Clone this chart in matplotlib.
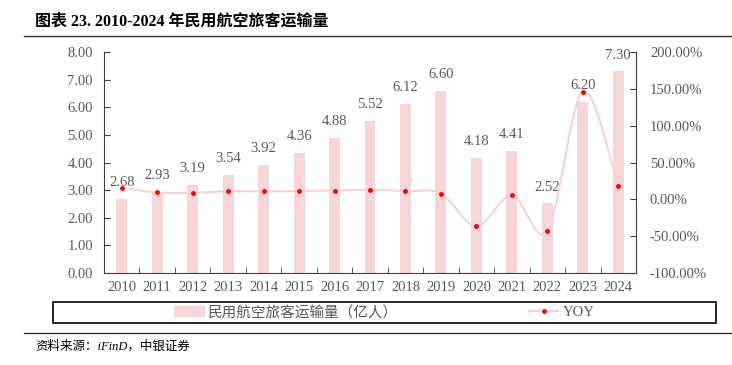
import numpy as np
from matplotlib import pyplot as plt
from matplotlib.patches import Patch, Rectangle
from matplotlib.lines import Line2D

plt.rcParams['font.family'] = ['Liberation Serif', 'Noto Sans CJK SC']
plt.rcParams['axes.unicode_minus'] = False

years = ['2010', '2011', '2012', '2013', '2014', '2015', '2016', '2017',
         '2018', '2019', '2020', '2021', '2022', '2023', '2024']
passengers = [2.68, 2.93, 3.19, 3.54, 3.92, 4.36, 4.88, 5.52,
              6.12, 6.60, 4.18, 4.41, 2.52, 6.20, 7.30]
yoy = [15.8, 9.3, 8.9, 11.0, 10.7, 11.2, 11.9, 13.1,
       10.9, 7.9, -36.7, 5.5, -42.9, 146.1, 17.7]

bar_color = '#f6d6d6'
line_color = '#f5d3d3'
text_color = '#595959'
axis_color = '#404040'
W, H = 732, 365


def catmull_rom(x, y, n=30):
    # smooth curve through the points, like excel's smoothed line
    x = np.asarray(x, float)
    y = np.asarray(y, float)
    px = np.concatenate([[x[0]], x, [x[-1]]])
    py = np.concatenate([[y[0]], y, [y[-1]]])
    xs, ys = [], []
    t = np.linspace(0, 1, n)
    for i in range(1, len(px) - 2):
        for p, out in ((px, xs), (py, ys)):
            p0, p1, p2, p3 = p[i - 1], p[i], p[i + 1], p[i + 2]
            out.append(0.5 * (2 * p1 + (-p0 + p2) * t
                              + (2 * p0 - 5 * p1 + 4 * p2 - p3) * t ** 2
                              + (-p0 + 3 * p1 - 3 * p2 + p3) * t ** 3))
    return np.concatenate(xs), np.concatenate(ys)


fig = plt.figure(figsize=(W / 100, H / 100), dpi=100)
ax = fig.add_axes([104 / W, 1 - 273 / H, (636 - 104) / W, (273 - 52) / H])
x = np.arange(len(years))

ax.bar(x, passengers, width=0.31, color=bar_color, zorder=1)
for xi, v in zip(x, passengers):
    ax.annotate('%.2f' % v, (xi, v), xytext=(0, 7), textcoords='offset points',
                ha='center', va='bottom', fontsize=10.5, color=text_color)

ax.set_xlim(-0.5, len(years) - 0.5)
ax.set_ylim(0, 8)
ax.set_yticks(np.arange(0, 8.01, 1))
ax.set_yticklabels(['%.2f' % v for v in np.arange(0, 8.01, 1)])
ax.set_xticks(x)
ax.set_xticklabels(years)
ax.set_xticks(np.arange(-0.5, len(years), 1), minor=True)
ax.tick_params(axis='x', which='major', length=0, pad=6, labelsize=10.5, labelcolor=text_color)
ax.tick_params(axis='x', which='minor', direction='in', length=4, color=axis_color)
ax.tick_params(axis='y', direction='in', length=4, color=axis_color, pad=8,
               labelsize=10.5, labelcolor=text_color)
for s in ['top', 'right']:
    ax.spines[s].set_visible(False)
for s in ['left', 'bottom']:
    ax.spines[s].set_color(axis_color)

ax2 = ax.twinx()
sx, sy = catmull_rom(x, yoy)
ax2.plot(sx, sy, color=line_color, lw=1.5, zorder=2)
ax2.plot(x, yoy, ls='none', marker='o', ms=2.5, color='red', zorder=3)
ax2.set_ylim(-100, 200)
ax2.set_yticks(np.arange(-100, 201, 50))
ax2.set_yticklabels(['%.2f%%' % v for v in np.arange(-100, 201, 50)])
ax2.tick_params(axis='y', direction='in', length=4, color=axis_color, pad=10,
                labelsize=10.5, labelcolor=text_color)
for s in ['top', 'left', 'bottom']:
    ax2.spines[s].set_visible(False)
ax2.spines['right'].set_color(axis_color)

# legend box
fig.patches.append(Rectangle((53 / W, 1 - 323 / H), (716 - 53) / W, 21 / H,
                             transform=fig.transFigure, fill=False,
                             edgecolor='black', lw=1.2))
handles = [Patch(color=bar_color),
           Line2D([], [], color=line_color, lw=1.5, marker='o', ms=2.5,
                  markerfacecolor='red', markeredgecolor='red')]
labels = ['民用航空旅客运输量（亿人）', 'YOY']
leg = fig.legend(handles, labels, loc='center', ncol=2,
                 bbox_to_anchor=(384.5 / W, 1 - 312.5 / H), frameon=False,
                 fontsize=10.5, handlelength=2.0, handleheight=0.7,
                 handletextpad=0.3, columnspacing=9.0)
for t in leg.get_texts():
    t.set_color(text_color)

# title, rules and source
fig.text(35 / W, 1 - 22 / H, '图表 23. 2010-2024 年民用航空旅客运输量',
         fontsize=11.5, fontweight='bold', va='center', ha='left')
fig.add_artist(Line2D([24 / W, 1], [1 - 36 / H, 1 - 36 / H],
                      transform=fig.transFigure, color='#333333', lw=1))
fig.add_artist(Line2D([24 / W, 1], [1 - 333 / H, 1 - 333 / H],
                      transform=fig.transFigure, color='#333333', lw=1))
fig.text(35 / W, 1 - 346 / H, '资料来源：iFinD，中银证券', fontsize=9,
         style='italic', va='center', ha='left')

fig.savefig('out.png', dpi=100)
